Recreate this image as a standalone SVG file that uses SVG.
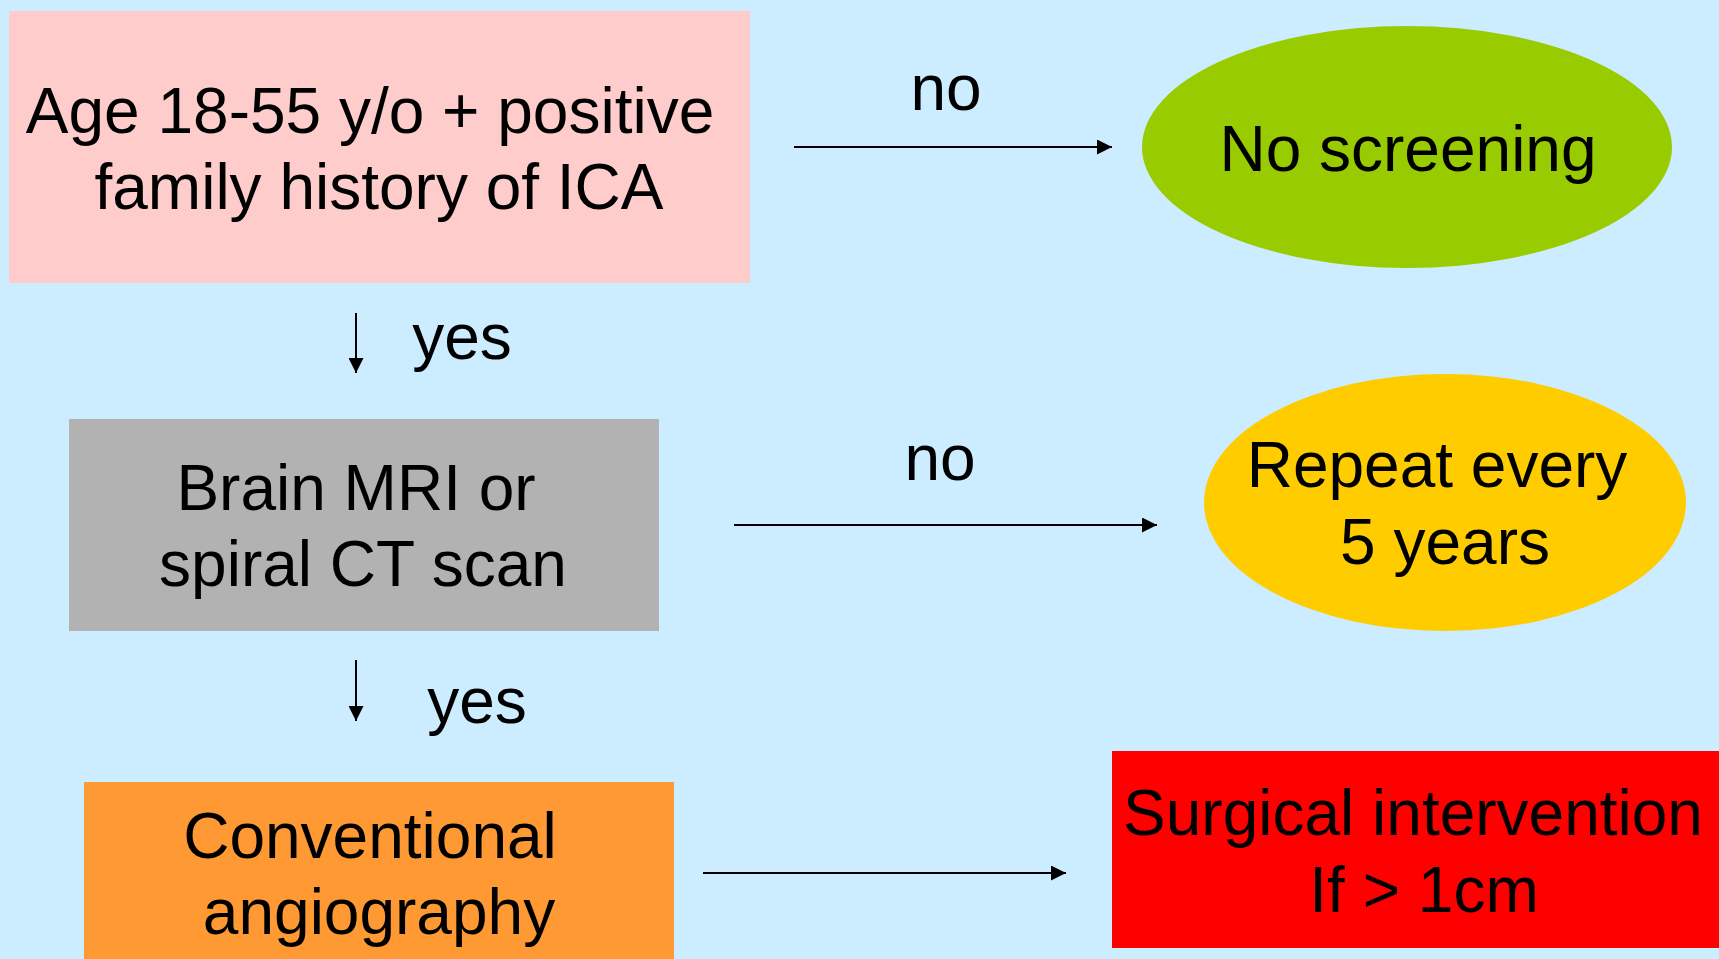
<svg xmlns="http://www.w3.org/2000/svg" width="1719" height="959" viewBox="0 0 1719 959">
<defs>
<style>
.t{font-family:"Liberation Sans",Arial,sans-serif;font-size:64px;fill:#000;text-anchor:middle}
.c{stroke:#000;stroke-width:2;fill:none;marker-end:url(#ah)}
</style>
<marker id="ah" markerUnits="userSpaceOnUse" markerWidth="15" markerHeight="15" refX="15" refY="7.5" orient="auto">
<path d="M0,0 L15,7.5 L0,15 z" fill="#000"/>
</marker>
</defs>
<rect width="1719" height="959" fill="#CCECFF"/>
<g id="n-age">
<rect x="9" y="11" width="741" height="272" fill="#FFCCCC"/>
<text class="t" x="370" y="133">Age 18-55 y/o + positive</text>
<text class="t" x="379" y="209">family history of ICA</text>
</g>
<g id="n-noscreen">
<ellipse cx="1407" cy="147" rx="265" ry="121" fill="#99CC00"/>
<text class="t" x="1408" y="171">No screening</text>
</g>
<g id="n-mri">
<rect x="69" y="419" width="590" height="212" fill="#B2B2B2"/>
<text class="t" x="356" y="510">Brain MRI or</text>
<text class="t" x="363" y="586">spiral CT scan</text>
</g>
<g id="n-repeat">
<ellipse cx="1445" cy="502.5" rx="241" ry="128.5" fill="#FFCC00"/>
<text class="t" x="1437" y="487">Repeat every</text>
<text class="t" x="1445" y="564">5 years</text>
</g>
<g id="n-angio">
<rect x="84" y="782" width="590" height="190" fill="#FF9933"/>
<text class="t" x="370" y="858">Conventional</text>
<text class="t" x="379" y="934">angiography</text>
</g>
<g id="n-surg">
<rect x="1112" y="751" width="620" height="197" fill="#FF0000"/>
<text class="t" x="1413" y="835">Surgical intervention</text>
<text class="t" x="1424" y="912">If &gt; 1cm</text>
</g>
<g id="connectors">
<line class="c" x1="794" y1="147" x2="1112" y2="147"/>
<text class="t" x="946" y="110">no</text>
<line class="c" x1="356" y1="313" x2="356" y2="373"/>
<text class="t" x="462" y="359">yes</text>
<line class="c" x1="734" y1="525" x2="1157" y2="525"/>
<text class="t" x="940" y="480">no</text>
<line class="c" x1="356" y1="660" x2="356" y2="721"/>
<text class="t" x="477" y="723">yes</text>
<line class="c" x1="703" y1="873" x2="1066" y2="873"/>
</g>
</svg>
